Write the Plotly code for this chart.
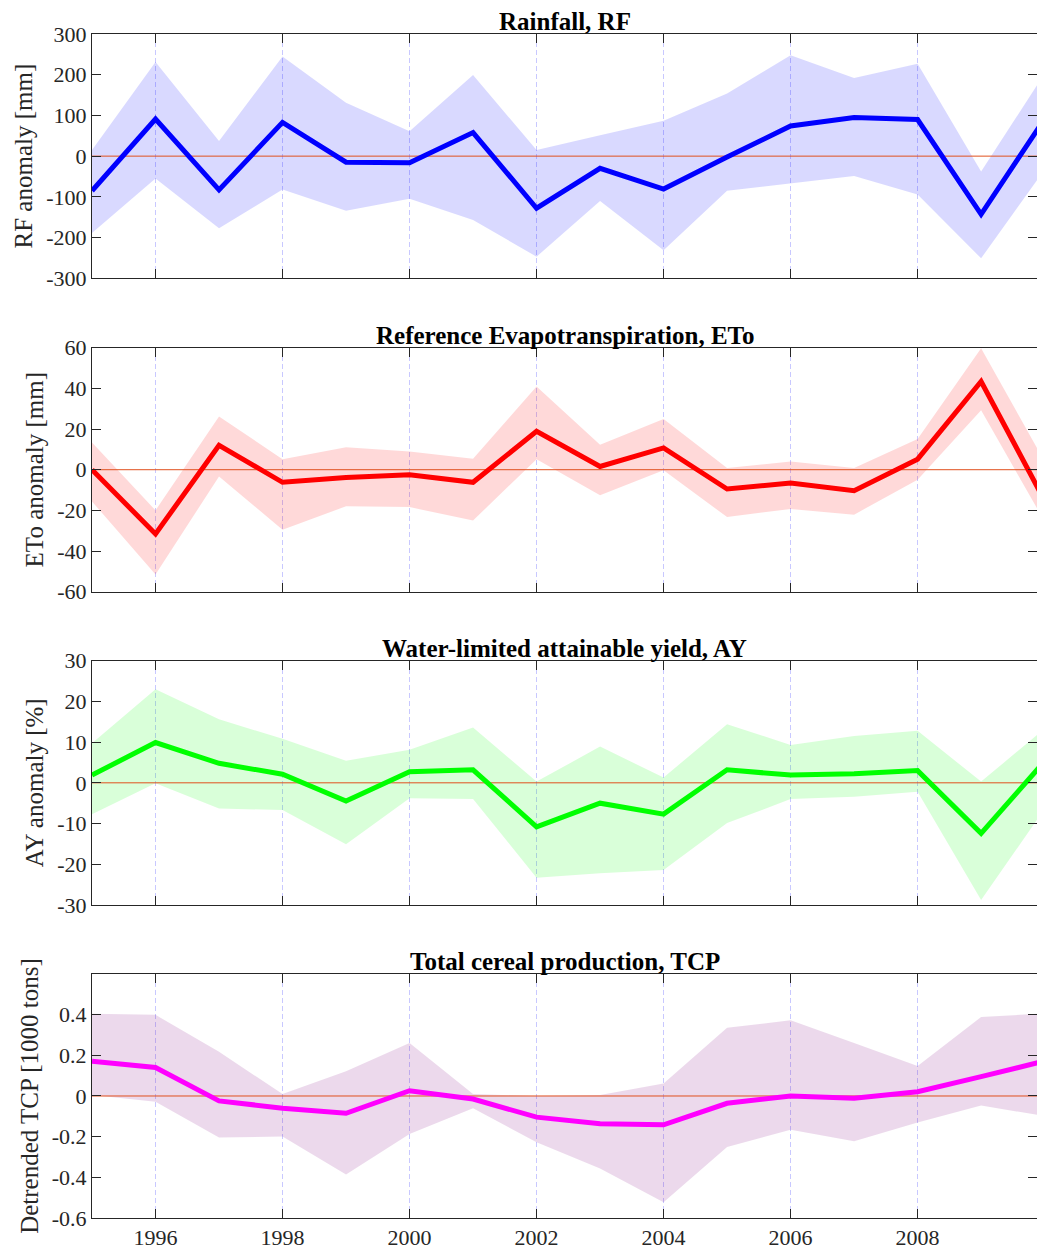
import plotly.graph_objects as go

years = list(range(1995, 2011))

rf_mean = [-85, 91, -83, 83, -15, -16, 58, -128, -30, -81, -2, 74, 95, 90, -143, 92]
rf_upper = [15, 231, 37, 245, 131, 61, 199, 15, 51, 87, 154, 248, 192, 227, -38, 203]
rf_lower = [-189, -55, -177, -82, -134, -105, -157, -247, -110, -231, -85, -67, -49, -94, -251, -33]

eto_mean = [0, -31.6, 12, -6.2, -3.8, -2.5, -6.2, 18.9, 1.6, 10.7, -9.5, -6.6, -10.3, 5.2, 43.4, -15.2]
eto_upper = [13.4, -20, 26.2, 5.2, 11, 9, 5.4, 41, 12.3, 24.9, 0.8, 4.1, 0.8, 15.1, 59.8, 4]
eto_lower = [-15.6, -51.6, -3.3, -29.5, -18, -18.4, -25, 5.2, -12.6, -0.3, -23.3, -19.3, -22.1, -4.9, 29.2, -25.5]

ay_mean = [1.9, 9.9, 4.8, 2.1, -4.5, 2.7, 3.2, -10.8, -5.0, -7.7, 3.2, 1.9, 2.2, 3.0, -12.4, 5.3]
ay_upper = [9.7, 23, 15.6, 10.8, 5.4, 8.1, 13.6, 0.3, 8.9, 1.3, 14.4, 9.3, 11.5, 12.8, 0.3, 13.3]
ay_lower = [-7.7, -0.1, -6.3, -6.7, -15.1, -3.8, -4.0, -23.3, -22.2, -21.4, -9.9, -4.0, -3.4, -2.2, -28.8, -6.4]

tcp_mean = [0.171, 0.140, -0.024, -0.060, -0.085, 0.026, -0.015, -0.104, -0.137, -0.142, -0.036, 0.0, -0.011, 0.021, 0.095, 0.172]
tcp_upper = [0.404, 0.399, 0.217, 0.010, 0.122, 0.261, 0.010, 0.0, 0.005, 0.062, 0.336, 0.372, 0.261, 0.147, 0.388, 0.406]
tcp_lower = [0.005, -0.028, -0.204, -0.199, -0.386, -0.187, -0.060, -0.227, -0.357, -0.522, -0.251, -0.166, -0.223, -0.130, -0.047, -0.099]

titles = ["Rainfall, RF", "Reference Evapotranspiration, ETo",
          "Water-limited attainable yield, AY", "Total cereal production, TCP"]
ylabels = ["RF anomaly [mm]", "ETo anomaly [mm]", "AY anomaly [%]", "Detrended TCP [1000 tons]"]
yranges = [[-300, 300], [-60, 60], [-30, 30], [-0.6, 0.6]]
ytickvals = [[-300, -200, -100, 0, 100, 200, 300],
             [-60, -40, -20, 0, 20, 40, 60],
             [-30, -20, -10, 0, 10, 20, 30],
             [-0.6, -0.4, -0.2, 0, 0.2, 0.4]]
yticktext = [["-300", "-200", "-100", "0", "100", "200", "300"],
             ["-60", "-40", "-20", "0", "20", "40", "60"],
             ["-30", "-20", "-10", "0", "10", "20", "30"],
             ["-0.6", "-0.4", "-0.2", "0", "0.2", "0.4"]]
xtickvals = [1996, 1998, 2000, 2002, 2004, 2006, 2008]
xticktext = ["1996", "1998", "2000", "2002", "2004", "2006", "2008"]

series = [(rf_mean, rf_upper, rf_lower, "#0000FF", "rgba(0,0,255,0.15)"),
          (eto_mean, eto_upper, eto_lower, "#FF0000", "rgba(255,0,0,0.15)"),
          (ay_mean, ay_upper, ay_lower, "#00FF00", "rgba(0,255,0,0.15)"),
          (tcp_mean, tcp_upper, tcp_lower, "#FF00FF", "rgba(128,0,128,0.15)")]

domains = [[0.7937, 1.0], [0.5290, 0.7350], [0.2644, 0.4707], [0.0, 0.2061]]

FONT = "Liberation Serif"
AX = "#262626"

fig = go.Figure()
annotations = []
for i, (m, u, lo, col, fcol) in enumerate(series):
    xa = "x" if i == 0 else f"x{i+1}"
    ya = "y" if i == 0 else f"y{i+1}"
    fig.add_trace(go.Scatter(x=years, y=lo, mode="lines", line=dict(width=0, color=fcol),
                             xaxis=xa, yaxis=ya, showlegend=False, hoverinfo="skip"))
    fig.add_trace(go.Scatter(x=years, y=u, mode="lines", line=dict(width=0, color=fcol),
                             fill="tonexty", fillcolor=fcol,
                             xaxis=xa, yaxis=ya, showlegend=False, hoverinfo="skip"))
    fig.add_trace(go.Scatter(x=[1995, 2010], y=[0, 0], mode="lines",
                             line=dict(width=1, color="#E0501E"),
                             xaxis=xa, yaxis=ya, showlegend=False))
    fig.add_trace(go.Scatter(x=years, y=m, mode="lines", line=dict(width=5, color=col),
                             xaxis=xa, yaxis=ya, showlegend=False))

    xkey = "xaxis" if i == 0 else f"xaxis{i+1}"
    ykey = "yaxis" if i == 0 else f"yaxis{i+1}"
    fig.layout[xkey] = dict(
        domain=[0, 1], anchor=ya, range=[1995, 2009.88],
        tickmode="array", tickvals=xtickvals, ticktext=xticktext,
        showticklabels=(i == 3),
        ticks="inside", ticklen=9, tickcolor=AX, tickwidth=1,
        showline=True, linecolor=AX, linewidth=1, mirror="ticks",
        showgrid=True, gridcolor="#C8C8FF", griddash="5px,3px", gridwidth=1,
        zeroline=False,
        tickfont=dict(family=FONT, size=22, color=AX),
    )
    fig.layout[ykey] = dict(
        domain=domains[i], anchor=xa, range=yranges[i],
        tickmode="array", tickvals=ytickvals[i], ticktext=yticktext[i],
        ticks="inside", ticklen=9, tickcolor=AX, tickwidth=1,
        showline=True, linecolor=AX, linewidth=1, mirror="ticks",
        showgrid=False, zeroline=False,
        tickfont=dict(family=FONT, size=22, color=AX),
        title=dict(text=ylabels[i], font=dict(family=FONT, size=25, color=AX), standoff=6),
    )
    annotations.append(dict(text=f"<b>{titles[i]}</b>", xref="paper", yref="paper",
                            x=0.5, y=domains[i][1], xanchor="center", yanchor="bottom",
                            yshift=-3, showarrow=False,
                            font=dict(family=FONT, size=25, color="#000000")))

fig.update_layout(
    width=1037, height=1251,
    margin=dict(l=92, r=0, t=34, b=33),
    paper_bgcolor="white", plot_bgcolor="white",
    annotations=annotations,
    showlegend=False,
)

fig.write_html(
    "out.html",
    config={"displayModeBar": False},
    post_script="document.body.style.margin='0';document.body.style.padding='0';"
                "document.body.style.overflow='hidden';",
)
